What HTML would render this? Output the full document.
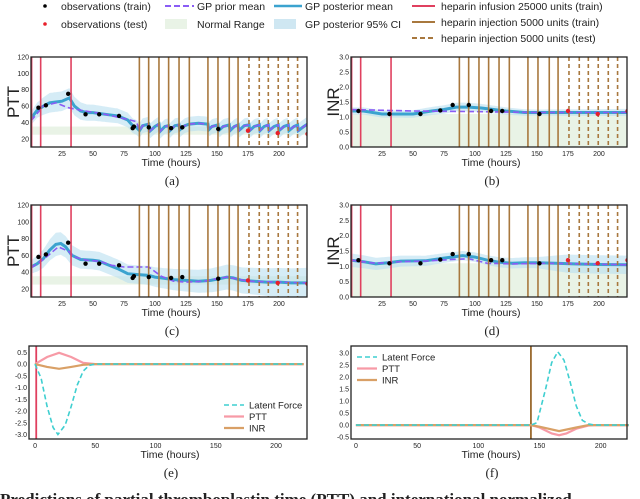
<!DOCTYPE html>
<html><head><meta charset="utf-8"><style>
body{margin:0;background:#fff;width:640px;height:499px;overflow:hidden}
svg{display:block;font-family:"Liberation Sans",sans-serif}
</style></head><body>
<svg id="fig" width="640" height="499" viewBox="0 0 640 499">
<g font-size="10.5" fill="#222">
 <circle cx="45" cy="6" r="1.8" fill="#000"/>
 <text x="61" y="10">observations (train)</text>
 <circle cx="45" cy="24" r="1.8" fill="#e8202a"/>
 <text x="61" y="28">observations (test)</text>
 <line x1="165" y1="6" x2="194" y2="6" stroke="#8a5cf5" stroke-width="2" stroke-dasharray="6,3"/>
 <text x="197" y="10">GP prior mean</text>
 <rect x="165" y="19" width="22" height="10" fill="#e9f3e6"/>
 <text x="197" y="28">Normal Range</text>
 <line x1="274" y1="6" x2="302" y2="6" stroke="#3ba3cf" stroke-width="2.5"/>
 <text x="305" y="10">GP posterior mean</text>
 <rect x="274" y="19" width="22" height="10" fill="#cfe7f2"/>
 <text x="305" y="28">GP posterior 95% CI</text>
 <line x1="412" y1="6" x2="435" y2="6" stroke="#e0405f" stroke-width="2"/>
 <text x="441" y="10">heparin infusion 25000 units (train)</text>
 <line x1="412" y1="22" x2="435" y2="22" stroke="#a8783e" stroke-width="2"/>
 <text x="441" y="26">heparin injection 5000 units (train)</text>
 <line x1="412" y1="38" x2="435" y2="38" stroke="#a8783e" stroke-width="2" stroke-dasharray="5,3"/>
 <text x="441" y="42">heparin injection 5000 units (test)</text>
</g>
<text x="0" y="505" font-family="Liberation Serif,serif" font-size="17" font-weight="bold" fill="#222">Predictions of partial thromboplastin time (PTT) and international normalized</text>
</svg>
<script>
// ---- shared data ----
const infusionTimes=[0.5,7.8,32.3];
const injTrainTimes=[87.4,94.9,103.2,111,119.4,127.7,142.7,150.8,159.9,167];
const injTestTimes=[175.8,184.1,191.4,199.4,207.5,215];
const pttTicks=[20,40,60,80,100,120];
const inrTicks=[0.0,0.5,1.0,1.5,2.0,2.5,3.0];
const timeTicks=[25,50,75,100,125,150,175,200];
const pttTrainT=[6,12,30,44,55,71,82,83,95,113,122,151];
const pttTrainV=[58,61,75,50,50,48,33,35,34,33,34,32];
const pttTestT=[175,199,223];
const pttTestV=[30,27,26];
const inrTrainT=[6,31,56,72,82,95,113,122,152];
const inrTrainV=[1.2,1.1,1.1,1.22,1.4,1.4,1.2,1.2,1.1];
const inrTestT=[175,199,223];
const inrTestV=[1.2,1.1,1.2];
// panel a
const aMeanT=[0,5,10,15,20,25,31,35,40,45,50,60,70,78,82,85,87.5,90,94.9,95.5,100,103.2,104,108,111,112,116,119.4,120,124,127.7,135,142.7,143.3,146,150.8,151.4,155,159.9,160.5,164,167,167.6,172,175.8,176.4,180,184.1,184.7,188,191.4,192,196,199.4,200,204,207.5,208.1,212,215,215.6,220,223];
const aMeanV=[45,55,60,64,65,66,70,60,54,52,52,50,48,43,36,34,30,36,38,29,35,38,29,35,36,30,36,37,31,36,38,39,38,31,35,37,30,35,37,30,35,37,30,36,37,30,35,37,30,35,37,30,35,37,30,35,37,30,35,37,30,35,38];
const aPriorT=[0,10,20,30,40,60,80,85];
const aPriorV=[42,60,64,58,55,50,43,41];
const aCiT=[0,15,30,45,70,85,120,223];
const aCiH=[8,12,12,10,9,9,9,9];
// panel b
const bMeanT=[0,10,25,35,50,65,75,85,95,105,115,125,140,160,180,200,223];
const bMeanV=[1.2,1.2,1.1,1.1,1.1,1.2,1.25,1.33,1.33,1.3,1.25,1.2,1.15,1.15,1.15,1.15,1.15];
const bPriorT=[0,50,100,150,223];
const bPriorV=[1.25,1.2,1.18,1.15,1.15];
const bCiT=[0,40,90,150,223];
const bCiH=[0.12,0.12,0.15,0.1,0.12];
// panel c
const cMeanT=[0,5,10,15,20,24,28,33,40,50,55,60,70,78,85,95,100,105,115,125,135,145,152,158,163,170,180,190,200,210,223];
const cMeanV=[46,50,56,66,73,74,70,60,55,54,53,50,44,38,37,36,34,33,31,30,29,30,32,34,33,30,29,28,28,27,27];
const cPriorT=[0,10,22,30,35,45,55,65,75,95,105,115,125,140,150,158,165,175,200,223];
const cPriorV=[45,55,70,65,58,54,53,48,46,46,35,29,28,29,32,34,32,29,28,27];
const cCiT=[0,20,40,60,90,120,160,223];
const cCiH=[8,14,11,11,11,13,15,18];
// panel d
const dMeanT=[0,10,20,30,40,60,75,90,100,110,120,130,140,150,165,180,200,223];
const dMeanV=[1.2,1.15,1.08,1.12,1.17,1.18,1.27,1.35,1.3,1.2,1.13,1.1,1.12,1.12,1.1,1.08,1.06,1.05];
const dPriorT=[0,20,40,60,80,95,110,130,160,223];
const dPriorV=[1.2,1.1,1.15,1.17,1.22,1.25,1.1,1.08,1.1,1.05];
const dCiT=[0,40,90,150,175,223];
const dCiH=[0.22,0.18,0.15,0.18,0.3,0.3];
// panel e
const eLatT=[0,5,10,15,19,25,30,35,40,45,50,223];
const eLatV=[0,-0.6,-1.8,-2.7,-3.0,-2.6,-1.8,-0.9,-0.3,-0.05,0,0];
const ePttT=[0,10,20,30,40,50,223];
const ePttV=[0,0.3,0.48,0.3,0.05,0,0];
const eInrT=[0,10,20,30,40,50,223];
const eInrV=[0,-0.12,-0.2,-0.12,-0.03,0,0];
const eTicks=[0.5,0.0,-0.5,-1.0,-1.5,-2.0,-2.5,-3.0];
// panel f
const fLatT=[0,143,148,155,160,165,170,175,180,185,190,195,223];
const fLatV=[0,0,0.1,1.5,2.6,3.05,2.7,1.8,0.8,0.2,0.05,0,0];
const fPttT=[0,143,150,160,166,172,180,190,195,223];
const fPttV=[0,0,-0.1,-0.35,-0.42,-0.35,-0.15,-0.02,0,0];
const fInrT=[0,143,150,166,180,190,223];
const fInrV=[0,0,-0.07,-0.25,-0.1,0,0];
const fTicks=[3.0,2.5,2.0,1.5,1.0,0.5,0.0,-0.5];
const efTimeTicks=[0,50,100,150,200];

const NS='http://www.w3.org/2000/svg';
const fig=document.getElementById('fig');
function mk(tag,attrs,parent){const e=document.createElementNS(NS,tag);for(const k in attrs)e.setAttribute(k,attrs[k]);(parent||fig).appendChild(e);return e;}
function interp(T,V,t){if(t<=T[0])return V[0];for(let i=1;i<T.length;i++){if(t<=T[i]){const f=(t-T[i-1])/(T[i]-T[i-1]);return V[i-1]+f*(V[i]-V[i-1]);}}return V[V.length-1];}
function path(T,V,sx,sy){return T.map((t,i)=>(i?'L':'M')+sx(t).toFixed(1)+','+sy(V[i]).toFixed(1)).join('');}

function gpPanel(o){
 const g=mk('g',{});
 
 
 const L=o.x0,R=o.x1,T=o.y0,B=o.y1;
 const sx=t=>L+ (t-o.xmin)*(R-L)/(o.xmax-o.xmin);
 const sy=v=>B-(v-o.ymin)*(B-T)/(o.ymax-o.ymin);
 const cp=mk('clipPath',{id:'clip-'+o.name},g);mk('rect',{x:L,y:T,width:R-L,height:B-T},cp);
 const inner=mk('g',{'clip-path':'url(#clip-'+o.name+')'},g);
 const nr=mk('rect',{x:L,y:sy(o.normHi),width:R-L,height:sy(o.normLo)-sy(o.normHi),fill:'#e9f3e6'},inner);
 
 
 const ts=[];for(let t=o.xmin;t<=o.xmax;t+=1)ts.push(t);
 let d='';ts.forEach((t,i)=>{d+=(i?'L':'M')+sx(t).toFixed(1)+','+sy(interp(o.mT,o.mV,t)+interp(o.ciT,o.ciH,t)).toFixed(1);});
 for(let i=ts.length-1;i>=0;i--){const t=ts[i];d+='L'+sx(t).toFixed(1)+','+sy(interp(o.mT,o.mV,t)-interp(o.ciT,o.ciH,t)).toFixed(1);}
 const band=mk('path',{d:d+'Z',fill:'#b9dff0','fill-opacity':'0.6'},inner);
 
 
 const ml=mk('path',{d:path(o.mT,o.mV,sx,sy),fill:'none',stroke:'#3ba3cf','stroke-width':3},inner);
 
 
 const pl=mk('path',{d:path(o.pT,o.pV,sx,sy),fill:'none',stroke:'#8a5cf5','stroke-width':1.6,'stroke-dasharray':'6,3'},inner);
 
 
 infusionTimes.forEach(t=>{const l=mk('line',{x1:sx(t),x2:sx(t),y1:T,y2:B,stroke:'#e0405f','stroke-width':1.6},inner);
  
  });
 injTrainTimes.forEach(t=>{const l=mk('line',{x1:sx(t),x2:sx(t),y1:T,y2:B,stroke:'#a8783e','stroke-width':1.6},inner);
  
  });
 injTestTimes.forEach(t=>{const l=mk('line',{x1:sx(t),x2:sx(t),y1:T,y2:B,stroke:'#a8783e','stroke-width':1.6,'stroke-dasharray':'4,3'},inner);
  
  });
 o.trT.forEach((t,i)=>{const c=mk('circle',{cx:sx(t),cy:sy(o.trV[i]),r:2.2,fill:'#000'},inner);
  
  });
 o.teT.forEach((t,i)=>{const c=mk('circle',{cx:sx(t),cy:sy(o.teV[i]),r:2.2,fill:'#e8202a'},inner);
  
  });
 axes(g,o,sx,sy,L,R,T,B);
}
function axes(g,o,sx,sy,L,R,T,B){
 const fr=mk('rect',{x:L,y:T,width:R-L,height:B-T,fill:'none',stroke:'#222','stroke-width':1.3},g);
 
 
 o.yTicks.forEach(v=>{const t=mk('text',{x:L-2,y:sy(v)+2.5,'font-size':7,'text-anchor':'end',fill:'#222'},g);t.textContent=o.yFmt(v);
  
  });
 o.xTicks.forEach(v=>{const t=mk('text',{x:sx(v),y:B+9,'font-size':7,'text-anchor':'middle',fill:'#222'},g);t.textContent=String(v);
  
  });
 const xl=mk('text',{x:(L+R)/2+2,y:B+19,'font-size':10.5,'text-anchor':'middle',fill:'#222'},g);xl.textContent='Time (hours)';
 
 
 if(o.ylabel){const yl=mk('text',{x:0,y:0,'font-size':17,'text-anchor':'middle',fill:'#222',transform:'translate('+(L-12)+','+((T+B)/2)+') rotate(-90)'},g);yl.textContent=o.ylabel;
  
  }
 const cap=mk('text',{x:(L+R)/2+3,y:B+38,'font-size':13,'text-anchor':'middle','font-family':'Liberation Serif,serif',fill:'#222'},g);cap.textContent=o.cap;
 
 
}
const f0=v=>String(v), f1=v=>v.toFixed(1);
gpPanel({name:'panel-a-ptt',x0:31,x1:307,y0:57,y1:147,xmin:0,xmax:222.6,ymin:10,ymax:120,normLo:25,normHi:35,mT:aMeanT,mV:aMeanV,pT:aPriorT.concat(aMeanT.filter(t=>t>85)),pV:aPriorV.concat(aMeanV.filter((v,i)=>aMeanT[i]>85)),ciT:aCiT,ciH:aCiH,trT:pttTrainT,trV:pttTrainV,teT:pttTestT,teV:pttTestV,yTicks:pttTicks,yFmt:f0,xTicks:timeTicks,ylabel:'PTT',cap:'(a)'});
gpPanel({name:'panel-b-inr',x0:351,x1:627,y0:57,y1:147,xmin:0,xmax:222.6,ymin:0,ymax:3,normLo:0,normHi:1.1,mT:bMeanT,mV:bMeanV,pT:bPriorT,pV:bPriorV,ciT:bCiT,ciH:bCiH,trT:inrTrainT,trV:inrTrainV,teT:inrTestT,teV:inrTestV,yTicks:inrTicks,yFmt:f1,xTicks:timeTicks,ylabel:'INR',cap:'(b)'});
gpPanel({name:'panel-c-ptt',x0:31,x1:307,y0:205,y1:297,xmin:0,xmax:222.6,ymin:10.2,ymax:120,normLo:25,normHi:35,mT:cMeanT,mV:cMeanV,pT:cPriorT,pV:cPriorV,ciT:cCiT,ciH:cCiH,trT:pttTrainT,trV:pttTrainV,teT:pttTestT,teV:pttTestV,yTicks:pttTicks,yFmt:f0,xTicks:timeTicks,ylabel:'PTT',cap:'(c)'});
gpPanel({name:'panel-d-inr',x0:351,x1:627,y0:205,y1:297,xmin:0,xmax:222.6,ymin:0,ymax:3,normLo:0,normHi:1.1,mT:dMeanT,mV:dMeanV,pT:dPriorT,pV:dPriorV,ciT:dCiT,ciH:dCiH,trT:inrTrainT,trV:inrTrainV,teT:inrTestT,teV:inrTestV,yTicks:inrTicks,yFmt:f1,xTicks:timeTicks,ylabel:'INR',cap:'(d)'});

function forcePanel(o){
 const g=mk('g',{});
 
 
 const L=o.x0,R=o.x1,T=o.y0,B=o.y1;
 const sx=t=>L+(t-o.xmin)*(R-L)/(o.xmax-o.xmin);
 const sy=v=>B-(v-o.ymin)*(B-T)/(o.ymax-o.ymin);
 const vl=mk('line',{x1:sx(o.vt),x2:sx(o.vt),y1:T,y2:B,stroke:o.vc,'stroke-width':1.8},g);
 
 
 const a=mk('path',{d:path(o.pT,o.pV,sx,sy),fill:'none',stroke:'#f79aa6','stroke-width':2.2},g);
 
 
 const b=mk('path',{d:path(o.iT,o.iV,sx,sy),fill:'none',stroke:'#d9a066','stroke-width':2.2},g);
 
 
 const c=mk('path',{d:path(o.lT,o.lV,sx,sy),fill:'none',stroke:'#3fcfd0','stroke-width':1.6,'stroke-dasharray':'5,3'},g);
 
 
 const lg=mk('g',{'font-size':9.5,fill:'#222'},g);
 
 
 const items=[['Latent Force','#3fcfd0',true],['PTT','#f79aa6',false],['INR','#d9a066',false]];
 items.forEach((it,i)=>{const y=o.ly+i*11.5;
  const ln=mk('line',{x1:o.lx,x2:o.lx+20,y1:y,y2:y,stroke:it[1],'stroke-width':it[2]?1.6:2.2,'stroke-dasharray':it[2]?'5,3':'none'},lg);
  
  
  const t=mk('text',{x:o.lx+25,y:y+3.5},lg);t.textContent=it[0];
  
  });
 axes(g,o,sx,sy,L,R,T,B);
}
forcePanel({name:'panel-e-forces',x0:29,x1:307,y0:346,y1:439,xmin:-5,xmax:225.7,ymin:-3.19,ymax:0.77,vt:1,vc:'#e0405f',lT:eLatT,lV:eLatV,pT:ePttT,pV:ePttV,iT:eInrT,iV:eInrV,yTicks:eTicks,yFmt:f1,xTicks:efTimeTicks,lx:224,ly:405,cap:'(e)'});
forcePanel({name:'panel-f-forces',x0:351,x1:627,y0:346,y1:439,xmin:-4,xmax:221.5,ymin:-0.58,ymax:3.29,vt:143,vc:'#9a6a2e',lT:fLatT,lV:fLatV,pT:fPttT,pV:fPttV,iT:fInrT,iV:fInrV,yTicks:fTicks,yFmt:f1,xTicks:efTimeTicks,lx:357,ly:357,cap:'(f)'});
</script>
</body></html>
